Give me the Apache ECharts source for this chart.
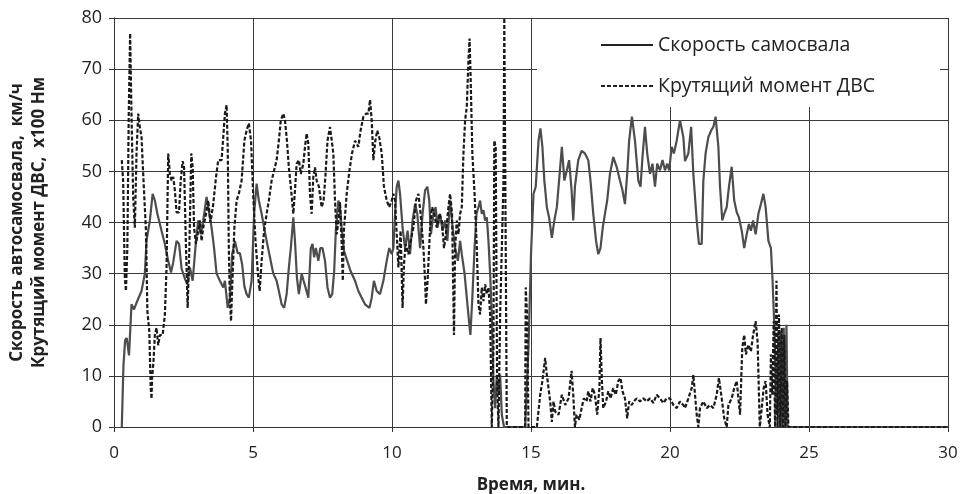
<!DOCTYPE html>
<html>
<head>
<meta charset="utf-8">
<script src="https://cdn.jsdelivr.net/npm/echarts@6/dist/echarts.min.js"></script>
<style>
html,body{margin:0;padding:0;background:#fff;}
#chart{width:962px;height:494px;}
</style>
</head>
<body>
<div id="chart"></div>
<script>
// ---- DATA ----
var xTicks = [0, 5, 10, 15, 20, 25, 30];
var yTicks = [0, 10, 20, 30, 40, 50, 60, 70, 80];
var seriesNames = ['Скорость самосвала', 'Крутящий момент ДВС'];

var speedTime = [0.28,0.34,0.40,0.46,0.54,0.63,0.72,0.81,0.99,1.11,1.17,1.29,1.39,1.47,1.56,1.63,1.71,1.83,1.95,2.05,2.13,2.25,2.34,2.43,2.55,2.64,2.73,2.83,2.95,3.03,3.12,3.21,3.33,3.43,3.51,3.60,3.69,3.81,3.93,
3.99,4.09,4.17,4.25,4.35,4.45,4.53,4.61,4.69,4.77,4.85,4.95,5.04,5.13,5.21,5.31,5.40,5.49,5.61,5.73,5.85,5.93,6.03,6.12,6.21,6.29,6.36,6.45,6.51,6.58,6.65,6.75,6.82,6.89,6.99,7.08,7.14,7.20,7.26,7.35,7.42,7.50,7.59,7.68,7.77,7.85,7.92,7.98,8.07,
8.13,8.19,8.27,8.39,8.51,8.67,8.79,8.91,9.03,9.19,9.27,9.35,9.45,9.57,9.69,9.81,9.90,9.99,10.05,10.11,10.17,10.23,10.29,10.38,10.47,10.56,10.65,10.74,10.83,10.91,11.01,11.10,11.19,11.27,11.34,11.40,11.49,11.57,11.64,11.73,11.82,11.91,11.99,12.09,12.18,
12.27,12.37,12.45,12.51,12.61,12.69,12.77,12.82,12.89,12.97,13.04,13.11,13.17,13.23,13.29,13.35,13.41,13.47,13.53,13.59,13.65,13.71,13.77,13.83,13.89,13.95,14.03,14.79,14.91,15.00,15.09,15.17,15.27,15.34,15.41,15.48,15.57,15.65,15.75,15.84,15.93,16.01,16.11,16.20,16.29,16.37,
16.46,16.52,16.58,16.70,16.82,16.94,17.06,17.14,17.24,17.34,17.42,17.50,17.58,17.66,17.74,17.84,17.96,18.08,18.20,18.29,18.38,18.46,18.53,18.63,18.74,18.86,18.94,19.01,19.10,19.18,19.28,19.37,19.46,19.54,19.64,19.73,19.82,19.90,19.97,20.06,20.14,20.24,20.36,20.48,
20.54,20.66,20.76,20.84,20.96,21.04,21.14,21.20,21.28,21.38,21.48,21.56,21.64,21.74,21.80,21.88,21.95,22.04,22.12,22.22,22.31,22.40,22.48,22.58,22.67,22.76,22.84,22.91,22.99,23.08,23.18,23.27,23.36,23.44,23.54,23.63,23.69,23.75,23.80,23.85,23.90,23.95,23.99,24.04,24.09,24.14,24.19,24.23,30];
var speedValues = [0,12,17,17.4,14,24,23,24.3,26.6,30,36.4,40.4,45.6,44.3,41.7,42,38.4,35.8,32.5,30.2,32.2,36.4,35.8,31,29,27.9,31.2,28.6,36.4,40.4,37.7,40.4,45,41.7,39,35,30,28.6,27.3,
28.6,23.3,25.3,33.8,36.4,34,34,31.8,27.5,26,25.3,28.6,41.7,47.6,44.3,41.7,39,36.4,33.2,30,28.6,26.6,24,23.3,26,31.2,35,41,36.4,29.2,26,30,28.6,27.3,25.3,35,35.8,33.2,35,32.5,35,35,32.5,27.3,25.3,26,30.5,38.4,44.3,
43,39,34.5,32.5,30.5,28.6,26.6,25.3,24,23.3,25.3,28.6,26.6,26,28.6,32.5,35,33.8,35,41.7,47,48.2,45.6,39,35,38.4,33.8,40.4,43.6,41.7,35,41.7,46.3,47,44.3,37.7,41.7,43,39,41.7,38.4,40.4,36.4,44.3,39,
35,32.5,36.4,33.8,30,25.3,20.7,18,25.3,35,41.7,43,44.3,41.7,42.4,40.4,41,36.4,30,22,9,3.7,10.2,6.3,10.2,2.4,0,0,15.5,33.8,45.6,47,56,58.4,54.8,48.2,43,41,37,40.4,43,48.2,54.8,48.2,50.2,52.2,
46.3,40.4,47,52.2,54,53.5,52.2,48.2,41.7,36.4,33.8,35,39,41.7,44.3,49.5,52.8,50.9,48.2,46.3,43.6,49.5,56,60.7,56,48.2,47,52.8,58.7,53.5,49.5,51.5,47,51.5,50.2,52.2,50.2,51.5,50.2,54.8,53.5,56,60,56.7,
52,53.5,58.7,49.5,40.4,35.8,35.8,48.2,53.5,56.7,58,58.7,60.7,54.8,47,40.4,41.7,43,47,50.9,44.3,42,41,38.4,35,37.7,39.7,38.4,40.4,37.7,41.7,43.6,45.6,43,36.4,35,28.6,20,11.5,2.4,18.7,0,18.7,0,19.4,0,20,0,0];

var torqueTime = [0.28,0.33,0.39,0.43,0.48,0.53,0.58,0.63,0.69,0.75,0.81,0.87,0.93,0.99,1.05,1.15,1.20,1.27,1.32,1.35,1.37,1.42,1.47,1.53,1.59,1.65,1.75,1.83,1.89,1.95,2.01,2.07,2.13,2.19,2.25,2.34,2.40,2.47,2.52,2.59,2.65,2.71,2.78,2.83,2.88,2.95,3.03,3.09,3.15,3.21,3.31,3.39,3.47,3.57,3.67,3.75,3.87,
3.99,4.05,4.09,4.13,4.17,4.21,4.25,4.33,4.41,4.49,4.59,4.69,4.77,4.85,4.93,5.01,5.09,5.19,5.24,5.31,5.40,5.49,5.57,5.67,5.76,5.85,5.93,6.00,6.09,6.15,6.22,6.29,6.36,6.45,6.51,6.57,6.65,6.72,6.81,6.87,6.93,6.99,7.05,7.11,7.17,7.23,7.29,7.37,7.47,7.54,7.61,7.68,7.77,7.83,7.89,7.95,8.01,8.07,
8.13,8.19,8.23,8.27,8.37,8.47,8.56,8.67,8.79,8.87,8.97,9.07,9.15,9.21,9.27,9.33,9.40,9.47,9.54,9.63,9.71,9.81,9.90,9.99,10.05,10.11,10.17,10.23,10.31,10.38,10.43,10.49,10.59,10.67,10.77,10.86,10.95,11.03,11.13,11.19,11.22,11.28,11.37,11.44,11.52,11.61,11.70,11.79,11.87,11.94,12.03,12.09,12.16,12.23,
12.27,12.33,12.39,12.45,12.51,12.57,12.63,12.69,12.75,12.79,12.83,12.89,12.97,13.05,13.11,13.17,13.23,13.29,13.35,13.41,13.47,13.53,13.59,13.65,13.68,13.73,13.78,13.83,13.89,13.95,14.01,14.04,14.09,14.13,14.79,14.81,14.86,14.91,15.21,15.33,15.41,15.51,15.57,15.63,15.69,15.75,15.81,15.87,15.99,16.11,16.23,16.35,
16.40,16.46,16.52,16.58,16.64,16.74,16.82,16.90,17.00,17.06,17.14,17.22,17.30,17.38,17.46,17.50,17.55,17.60,17.70,17.78,17.86,17.96,18.05,18.14,18.22,18.29,18.38,18.46,18.53,18.62,18.70,18.80,18.92,19.04,19.16,19.28,19.40,19.52,19.64,19.76,19.88,20.00,20.12,20.24,20.36,20.48,
20.54,20.66,20.78,20.84,20.90,20.96,21.02,21.08,21.20,21.32,21.44,21.56,21.68,21.76,21.86,21.95,22.04,22.10,22.22,22.31,22.40,22.46,22.52,22.60,22.67,22.73,22.82,22.91,22.99,23.08,23.15,23.23,23.30,23.37,23.44,23.51,23.59,23.63,23.68,23.73,23.78,23.83,23.87,23.92,23.97,24.02,24.07,24.11,24.16,24.21,24.26,30];
var torqueValues = [52.2,48,29,26.6,35,61,77,61,45,39,53.5,61.3,58.7,56.7,49.5,38.4,22.7,18.7,7.6,5.5,9.6,12.8,18,19.4,16,18,18,22,31.2,53.5,49.5,48.2,48.9,46.3,42,42,48.2,52,50.8,35,23.3,35,53.5,50.8,39,35.8,38.4,40.4,36.4,39,41.7,44.3,40,43.6,48.9,52.2,52.2,
61.3,63,54.8,35,24.6,20.7,27.3,39,44.3,45.6,48.2,56,58,59.4,56,45,36.4,29.2,26.6,32.5,38.4,41.7,44.3,48.2,50.2,52.2,56,60,61.3,60,56,50.8,47,41.7,46.3,51.5,52.2,49.5,51.5,54.8,57.4,55.4,45.6,41.7,48.9,50.8,48.2,47,43,44.3,49.5,56,58.7,58.7,53.5,44.3,37.7,40,
44,36,28.6,38.4,45.6,50.2,53.5,56,54.8,58,60.7,61.3,61.3,64,60,52.2,56,58,56.7,53.5,47,44.3,43,44.3,45.6,44.3,37.7,31.2,38.4,23.3,31.8,35.8,33.8,36.4,39,44.3,45.6,41.7,35,28.6,24,28.6,39,43,41.7,39,41.7,40.4,35,37.7,43,45.6,41.7,18,
35,40.4,37.7,41.7,43,53.5,60,62.6,71.8,76,68,53.5,45.6,35,24,22,27.3,24.6,27.9,26,27.3,22,0,15.5,56,54.8,9,0,22,35,48,80,80,0,0,27.3,22,0,0,6.3,9,13.5,10.2,7.6,5,1,5,3,2.4,6.3,4.3,5.6,
5.6,11,6.3,0,2.4,1.4,3.7,5.6,5,7,5,7.6,6.3,2.4,7.6,17.4,9,3.7,5,7,5.6,7.6,6.3,9,9.6,7,5.6,1.7,5,4.3,5,5.6,5,5.6,5,5.6,4.7,6.3,5.6,4.7,5.6,5.6,4.3,3.7,5,4.3,
3.7,5.6,7.6,10.2,6.3,2.4,0,3.7,5,3.7,4.3,3.7,6.3,9.6,5.6,1.7,0,4.3,5.6,7.6,9,5.6,2.4,15.5,18,14.2,16.1,14.8,18,20.7,16.8,0,3.7,7.6,9,2.4,0,14.2,6.3,20.7,0,28.6,0,22,0,19.4,0,18,0,9,0,0];

function zip(a, b) { var r = []; for (var i = 0; i < a.length; i++) r.push([a[i], b[i]]); return r; }

var FONT = '"Open Sans", "DejaVu Sans", sans-serif';
var SOLID_COLOR = '#4d4d4d';
var DASH_COLOR = '#1a1a1a';
var chart = echarts.init(document.getElementById('chart'), null, {renderer: 'canvas'});
chart.setOption({
  animation: false,
  backgroundColor: '#fff',
  grid: {left: 114, right: 14, top: 18, bottom: 67, containLabel: false, outerBoundsMode: 'none'},
  graphic: [
    {type: 'rect', z: 1, shape: {x: 537, y: 19, width: 403, height: 88}, style: {fill: '#fff'}},
    {type: 'line', z: 10, shape: {x1: 601, y1: 45, x2: 653, y2: 45}, style: {stroke: '#222', lineWidth: 2}},
    {type: 'text', z: 10, x: 658, y: 45, style: {text: seriesNames[0], fill: '#222', fontSize: 19.5, fontFamily: FONT, verticalAlign: 'middle'}},
    {type: 'line', z: 10, shape: {x1: 601, y1: 86, x2: 653, y2: 86}, style: {stroke: '#222', lineWidth: 2, lineDash: [4, 2]}},
    {type: 'text', z: 10, x: 658, y: 86, style: {text: seriesNames[1], fill: '#222', fontSize: 19.5, fontFamily: FONT, verticalAlign: 'middle'}}
  ],
  xAxis: {
    type: 'value', min: xTicks[0], max: xTicks[xTicks.length - 1], interval: 5,
    name: 'Время, мин.', nameLocation: 'middle', nameGap: 50,
    nameTextStyle: {fontSize: 17, fontWeight: 'bold', color: '#222', fontFamily: FONT},
    axisLine: {lineStyle: {color: '#333', width: 1}},
    axisTick: {show: true, length: 5, lineStyle: {color: '#333'}},
    axisLabel: {fontSize: 17, color: '#222', margin: 18, fontFamily: FONT},
    splitLine: {show: true, lineStyle: {color: '#3a3a3a', width: 1}}
  },
  yAxis: {
    type: 'value', min: yTicks[0], max: yTicks[yTicks.length - 1], interval: 10,
    name: 'Скорость автосамосвала,  км/ч\nКрутящий момент ДВС,  х100 Нм',
    nameLocation: 'middle', nameGap: 64, nameRotate: 90,
    nameTextStyle: {fontSize: 17, fontWeight: 'bold', color: '#222', lineHeight: 22, fontFamily: FONT},
    axisLine: {show: true, lineStyle: {color: '#333', width: 1}},
    axisTick: {show: true, length: 5, lineStyle: {color: '#333'}},
    axisLabel: {fontSize: 18, color: '#222', margin: 12, fontFamily: FONT},
    splitLine: {show: true, lineStyle: {color: '#3a3a3a', width: 1}}
  },
  series: [
    {
      name: seriesNames[0], type: 'line', data: zip(speedTime, speedValues),
      symbol: 'none', showSymbol: false, z: 3,
      lineStyle: {color: SOLID_COLOR, width: 2.2},
      itemStyle: {color: SOLID_COLOR}
    },
    {
      name: seriesNames[1], type: 'line', data: zip(torqueTime, torqueValues),
      symbol: 'none', showSymbol: false, z: 4,
      lineStyle: {color: DASH_COLOR, width: 2.2, type: [4, 2]},
      itemStyle: {color: DASH_COLOR}
    }
  ]
});
</script>
</body>
</html>
